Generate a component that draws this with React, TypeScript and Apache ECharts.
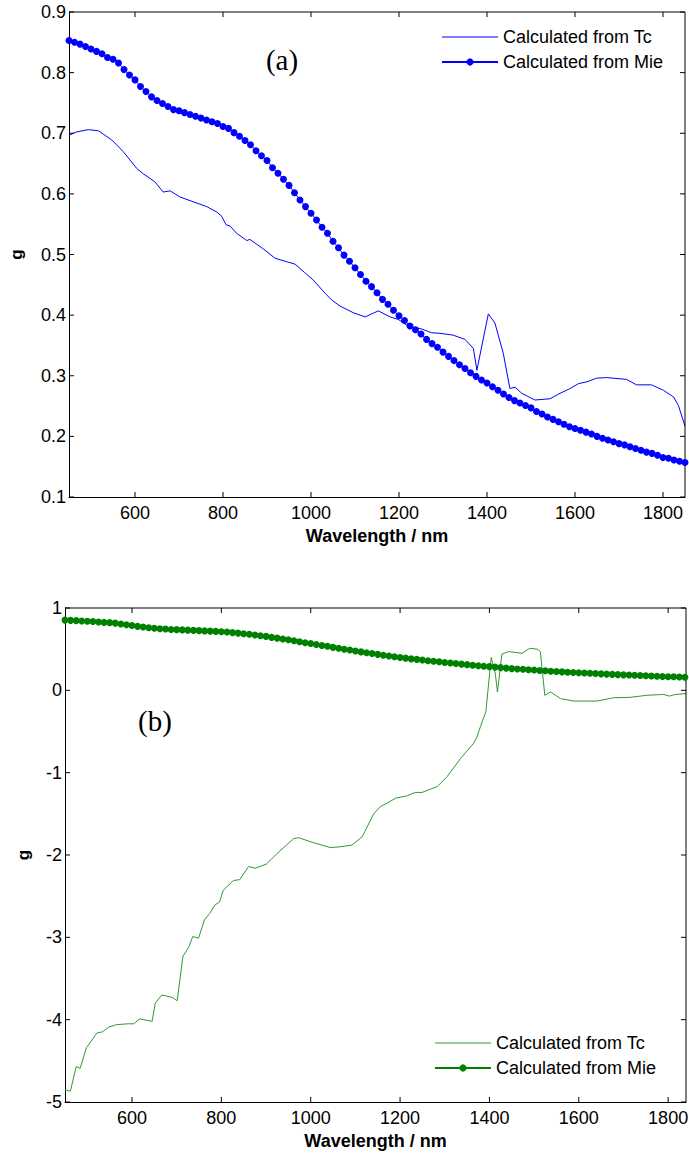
import React, { useEffect, useRef } from "react";
import * as echarts from "echarts";

// ---------- data ----------
const xTickValues = [600, 800, 1000, 1200, 1400, 1600, 1800];
const yTicksA = [0.1, 0.2, 0.3, 0.4, 0.5, 0.6, 0.7, 0.8, 0.9];
const yTicksB = [-5, -4, -3, -2, -1, 0, 1];

const mieWave = [
  450, 462.5, 475, 487.5, 500, 512.5, 525, 537.5, 550, 562.5, 575, 587.5, 600, 612.5, 625, 637.5,
  650, 662.5, 675, 687.5, 700, 712.5, 725, 737.5, 750, 762.5, 775, 787.5, 800, 812.5, 825, 837.5,
  850, 862.5, 875, 887.5, 900, 912.5, 925, 937.5, 950, 962.5, 975, 987.5, 1000, 1012.5, 1025, 1037.5,
  1050, 1062.5, 1075, 1087.5, 1100, 1112.5, 1125, 1137.5, 1150, 1162.5, 1175, 1187.5, 1200, 1212.5,
  1225, 1237.5, 1250, 1262.5, 1275, 1287.5, 1300, 1312.5, 1325, 1337.5, 1350, 1362.5, 1375, 1387.5,
  1400, 1412.5, 1425, 1437.5, 1450, 1462.5, 1475, 1487.5, 1500, 1512.5, 1525, 1537.5, 1550, 1562.5,
  1575, 1587.5, 1600, 1612.5, 1625, 1637.5, 1650, 1662.5, 1675, 1687.5, 1700, 1712.5, 1725, 1737.5,
  1750, 1762.5, 1775, 1787.5, 1800, 1812.5, 1825, 1837.5, 1850,
];
const mieG = [
  0.853, 0.85, 0.847, 0.843, 0.839, 0.835, 0.831, 0.825, 0.822, 0.816, 0.805, 0.796, 0.788, 0.777, 0.769, 0.76,
  0.754, 0.749, 0.744, 0.739, 0.737, 0.734, 0.731, 0.728, 0.725, 0.722, 0.719, 0.716, 0.711, 0.708, 0.701, 0.695,
  0.688, 0.681, 0.671, 0.663, 0.655, 0.643, 0.634, 0.624, 0.614, 0.602, 0.59, 0.579, 0.568, 0.557, 0.545, 0.535,
  0.522, 0.511, 0.499, 0.489, 0.478, 0.467, 0.456, 0.447, 0.437, 0.426, 0.418, 0.408, 0.399, 0.391,
  0.382, 0.376, 0.369, 0.36, 0.353, 0.347, 0.339, 0.332, 0.325, 0.318, 0.312, 0.305, 0.299, 0.293,
  0.288, 0.282, 0.276, 0.27, 0.264, 0.259, 0.255, 0.251, 0.247, 0.241, 0.237, 0.232, 0.228, 0.224,
  0.22, 0.216, 0.213, 0.21, 0.207, 0.204, 0.2, 0.197, 0.194, 0.191, 0.188, 0.186, 0.183, 0.18,
  0.177, 0.174, 0.172, 0.169, 0.165, 0.164, 0.161, 0.159, 0.157,
];

const tcWaveA = [
  450, 467, 494, 517, 547, 573, 604, 619, 645, 664, 680, 702, 732, 763, 786, 797, 807, 816, 831, 854, 861,
  892, 918, 945, 964, 986, 1005, 1032, 1047, 1066, 1096, 1123, 1153, 1180, 1198, 1225, 1248, 1274, 1293,
  1323, 1350, 1369, 1377, 1403, 1418, 1437, 1452, 1464, 1479, 1509, 1543, 1566, 1589, 1608, 1627, 1649,
  1672, 1717, 1740, 1774, 1801, 1824, 1835, 1850,
];
const tcGA = [
  0.697, 0.702, 0.706, 0.704, 0.689, 0.67, 0.642, 0.633, 0.62, 0.603, 0.605, 0.595, 0.587, 0.579, 0.57, 0.563,
  0.549, 0.547, 0.535, 0.523, 0.525, 0.509, 0.494, 0.488, 0.484, 0.47, 0.458, 0.436, 0.425, 0.415, 0.404,
  0.397, 0.407, 0.397, 0.393, 0.38, 0.378, 0.371, 0.37, 0.367, 0.36, 0.345, 0.309, 0.402, 0.387, 0.337,
  0.279, 0.281, 0.271, 0.26, 0.262, 0.271, 0.279, 0.287, 0.29, 0.296, 0.297, 0.294, 0.285, 0.285, 0.276,
  0.265, 0.251, 0.217,
];

const tcWaveB = [
  450, 462, 475, 484, 498, 522, 533, 548, 566, 592, 604, 617, 645, 652, 667, 690, 701, 714, 727, 736, 749,
  762, 774, 785, 796, 804, 827, 841, 861, 876, 901, 925, 962, 973, 1006, 1044, 1066, 1092, 1115, 1141,
  1156, 1171, 1190, 1216, 1234, 1249, 1268, 1283, 1305, 1335, 1365, 1371, 1380, 1392, 1404, 1413, 1418,
  1428, 1443, 1473, 1490, 1507, 1514, 1524, 1537, 1559, 1589, 1641, 1678, 1715, 1753, 1790, 1803, 1816,
  1840,
];
const tcGB = [
  -4.85, -4.87, -4.57, -4.59, -4.34, -4.16, -4.15, -4.09, -4.06, -4.05, -4.05, -3.99, -4.02, -3.8, -3.7,
  -3.73, -3.77, -3.23, -3.12, -2.99, -3.01, -2.79, -2.71, -2.61, -2.57, -2.43, -2.31, -2.3, -2.14, -2.16,
  -2.11, -1.98, -1.8, -1.79, -1.85, -1.91, -1.9, -1.88, -1.78, -1.5, -1.41, -1.37, -1.31, -1.28, -1.24,
  -1.24, -1.2, -1.17, -1.05, -0.83, -0.64, -0.58, -0.44, -0.26, 0.4, 0.21, -0.02, 0.44, 0.47, 0.45, 0.51,
  0.5, 0.47, -0.06, -0.02, -0.1, -0.13, -0.13, -0.09, -0.085, -0.06, -0.05, -0.07, -0.05, -0.04,
];

const legendLabels: Record<string, string> = {
  aTc: "Calculated from Tc",
  aMie: "Calculated from Mie",
  bTc: "Calculated from Tc",
  bMie: "Calculated from Mie",
};

const SANS = "'Liberation Sans', Arial, sans-serif";
const SERIF = "'Liberation Serif', 'Times New Roman', serif";
const TICK = 5;
const LINE_ICON = "path://M0,0H56V1.2H0Z";

const gridA = { left: 69, top: 12, width: 616, height: 485 };
const gridB = { left: 65, top: 608, width: 621, height: 494 };

const pairs = (xs: number[], ys: number[]) => xs.map((x, i) => [x, ys[i]]);

function xAxis(gridIndex: number, max: number) {
  return {
    type: "value",
    gridIndex,
    min: 450,
    max,
    splitLine: { show: false },
    axisLine: { show: true, onZero: false, lineStyle: { color: "#000", width: 1 } },
    axisTick: { show: false },
    axisLabel: {
      customValues: xTickValues,
      color: "#000",
      fontSize: 18,
      fontFamily: SANS,
      margin: 7,
      formatter: (v: number) => String(v),
    },
    name: "Wavelength / nm",
    nameLocation: "middle",
    nameGap: 30,
    nameTextStyle: { color: "#000", fontSize: 18, fontWeight: "bold", fontFamily: SANS },
  };
}

function yAxis(gridIndex: number, min: number, max: number, interval: number, dec: number, nameGap: number) {
  return {
    type: "value",
    gridIndex,
    min,
    max,
    interval,
    splitLine: { show: false },
    axisLine: { show: true, onZero: false, lineStyle: { color: "#000", width: 1 } },
    axisTick: { show: false },
    axisLabel: {
      color: "#000",
      fontSize: 18,
      fontFamily: SANS,
      margin: 3,
      formatter: (v: number) => v.toFixed(dec),
    },
    name: "g",
    nameLocation: "middle",
    nameGap,
    nameTextStyle: { color: "#000", fontSize: 17, fontWeight: "bold", fontFamily: SANS },
  };
}

// frame (top/right) and inside tick marks on all four sides, drawn as tiny line
// series so that the axes' own scales place them
function frameSeries(idx: number, g: any, xmin: number, xmax: number, ymin: number, ymax: number, yTicks: number[]) {
  const dx = (TICK / g.width) * (xmax - xmin);
  const dy = (TICK / g.height) * (ymax - ymin);
  const segs: number[][][] = [
    [
      [xmin, ymax],
      [xmax, ymax],
      [xmax, ymin],
    ],
  ];
  xTickValues.forEach((v) => {
    if (v > xmax) return;
    segs.push([
      [v, ymin],
      [v, ymin + dy],
    ]);
    segs.push([
      [v, ymax],
      [v, ymax - dy],
    ]);
  });
  yTicks.forEach((v) => {
    segs.push([
      [xmin, v],
      [xmin + dx, v],
    ]);
    segs.push([
      [xmax, v],
      [xmax - dx, v],
    ]);
  });
  return segs.map((data, k) => ({
    name: `frame-${idx}-${k}`,
    type: "line",
    xAxisIndex: idx,
    yAxisIndex: idx,
    data,
    symbol: "none",
    silent: true,
    clip: false,
    z: 3,
    emphasis: { disabled: true },
    lineStyle: { color: "#000", width: 1 },
    itemStyle: { color: "#000" },
  }));
}

export default function App() {
  const ref = useRef<HTMLDivElement>(null);
  useEffect(() => {
    if (!ref.current) return;
    const chart = echarts.init(ref.current, null, { renderer: "svg" });
    const legendBase = () => ({
      orient: "vertical",
      padding: 0,
      itemWidth: 56,
      itemHeight: 9,
      itemGap: 7,
      formatter: (n: string) => legendLabels[n],
      textStyle: { color: "#000", fontSize: 18, fontFamily: SANS, lineHeight: 18 },
    });
    const option: any = {
      animation: false,
      grid: [
        { ...gridA, outerBoundsMode: "none" },
        { ...gridB, outerBoundsMode: "none" },
      ],
      xAxis: [xAxis(0, 1850), xAxis(1, 1840)],
      yAxis: [yAxis(0, 0.1, 0.9, 0.1, 1, 44), yAxis(1, -5, 1, 1, 0, 33)],
      legend: [
        { ...legendBase(), left: 441, top: 28, data: [{ name: "aTc", icon: LINE_ICON }, "aMie"] },
        { ...legendBase(), left: 434, top: 1034, data: [{ name: "bTc", icon: LINE_ICON }, "bMie"] },
      ],
      graphic: [
        {
          type: "text",
          x: 282,
          y: 60,
          style: { text: "(a)", font: `29px ${SERIF}`, fill: "#000", align: "center", verticalAlign: "middle" },
        },
        {
          type: "text",
          x: 155,
          y: 721,
          style: { text: "(b)", font: `29px ${SERIF}`, fill: "#000", align: "center", verticalAlign: "middle" },
        },
      ],
      series: [
        {
          name: "aTc",
          type: "line",
          xAxisIndex: 0,
          yAxisIndex: 0,
          data: pairs(tcWaveA, tcGA),
          symbol: "none",
          lineStyle: { color: "#0000ff", width: 1 },
          itemStyle: { color: "#0000ff" },
        },
        {
          name: "aMie",
          type: "line",
          xAxisIndex: 0,
          yAxisIndex: 0,
          data: pairs(mieWave, mieG),
          symbol: "circle",
          symbolSize: 7,
          showAllSymbol: true,
          lineStyle: { color: "#0000ff", width: 1 },
          itemStyle: { color: "#0000ff" },
        },
        {
          name: "bTc",
          type: "line",
          xAxisIndex: 1,
          yAxisIndex: 1,
          data: pairs(tcWaveB, tcGB),
          symbol: "none",
          lineStyle: { color: "#2f9a2f", width: 1 },
          itemStyle: { color: "#2f9a2f" },
        },
        {
          name: "bMie",
          type: "line",
          xAxisIndex: 1,
          yAxisIndex: 1,
          data: pairs(mieWave, mieG),
          symbol: "circle",
          symbolSize: 7,
          showAllSymbol: true,
          lineStyle: { color: "#008000", width: 1 },
          itemStyle: { color: "#008000" },
        },
        ...frameSeries(0, gridA, 450, 1850, 0.1, 0.9, yTicksA),
        ...frameSeries(1, gridB, 450, 1840, -5, 1, yTicksB),
      ],
    };
    chart.setOption(option);
    return () => chart.dispose();
  }, []);
  return (
    <div
      ref={ref}
      style={{ position: "absolute", left: 0, top: 0, width: 689, height: 1153, background: "#fff" }}
    />
  );
}
